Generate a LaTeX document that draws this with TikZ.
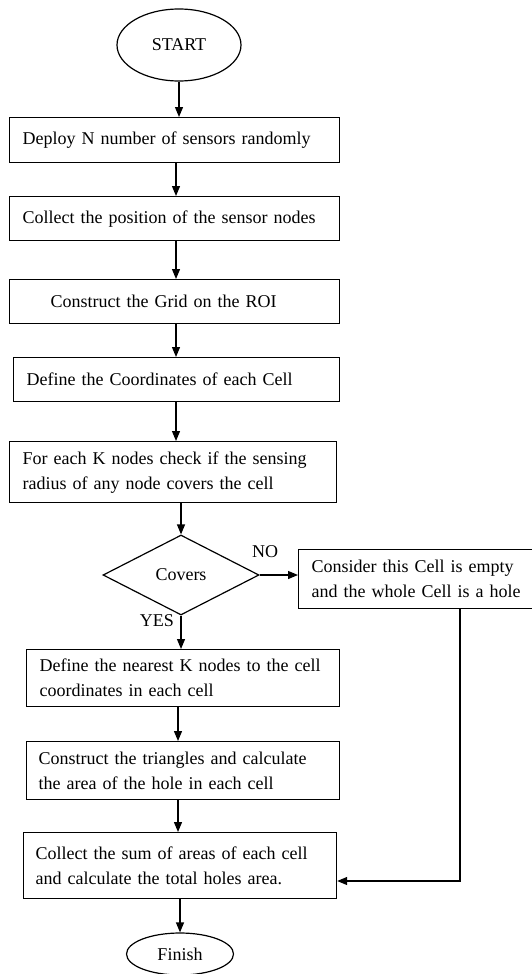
\documentclass[tikz,border=0pt]{standalone}
\usepackage{fontspec}
\setmainfont{Liberation Serif}
\usetikzlibrary{shapes.geometric,arrows.meta,calc}
\begin{document}
\begin{tikzpicture}[x=1pt,y=-1pt,
  every node/.style={font=\fontsize{18}{25}\selectfont},
  proc/.style={draw, line width=1.2pt, rectangle, anchor=north west, align=left, inner ysep=0pt},
  term/.style={draw, ellipse, line width=1.2pt, inner sep=0pt},
  arr/.style={line width=1.2pt, -{Triangle[length=10pt,width=8pt]}}]
\useasboundingbox (0,0) rectangle (531,974);

\node[term, minimum width=124pt, minimum height=72pt] (start) at (179,45) {\raisebox{-4pt}{START}};

\node[proc, minimum width=330pt, minimum height=45pt, text width=304pt, inner xsep=13pt] (b1) at (9,117) {\mbox{Deploy N number of sensors randomly}};
\node[proc, minimum width=330pt, minimum height=44pt, text width=304pt, inner xsep=13pt] (b2) at (9,196) {\mbox{Collect the position of the sensor nodes}};
\node[proc, minimum width=330pt, minimum height=44pt, text width=248pt, inner xsep=41pt] (b3) at (9,279) {\mbox{Construct the Grid on the ROI}};
\node[proc, minimum width=326pt, minimum height=44pt, text width=300pt, inner xsep=13pt] (b4) at (13,357) {\mbox{Define the Coordinates of each Cell}};
\node[proc, minimum width=327pt, minimum height=61pt, text width=301pt, inner xsep=13pt] (b5) at (9,441) {\mbox{For each K nodes check if the sensing}\\\mbox{radius of any node covers the cell}};

\node[draw, diamond, line width=1.2pt, minimum width=156pt, minimum height=80pt, inner sep=0pt] (dia) at (181,575) {Covers};

\node[proc, minimum width=250pt, minimum height=59pt, text width=224pt, inner xsep=13pt] (side) at (298,549) {\mbox{Consider this Cell is empty}\\\mbox{and the whole Cell is a hole}};

\node[proc, minimum width=313pt, minimum height=57pt, text width=287pt, inner xsep=13pt] (b6) at (26,649) {\mbox{Define the nearest K nodes to the cell}\\\mbox{coordinates in each cell}};
\node[proc, minimum width=313pt, minimum height=58pt, text width=289pt, inner xsep=12pt] (b7) at (26,741) {\mbox{Construct the triangles and calculate}\\\mbox{the area of the hole in each cell}};
\node[proc, minimum width=313pt, minimum height=66pt, text width=289pt, inner xsep=12pt] (b8) at (23,832) {\mbox{Collect the sum of areas of each cell}\\\mbox{and calculate the total holes area.}};

\node[term, minimum width=107pt, minimum height=42pt] (fin) at (180,954) {Finish};

\node (no) at (265,552) {NO};
\node (yes) at (157,621) {YES};

\coordinate (c176) at (176,0);
\coordinate (c178) at (178,0);
\coordinate (ret) at (460,881);

\draw[arr] (start.south) -- (start.south |- b1.north);
\draw[arr] (b1.south -| c176) -- (b2.north -| c176);
\draw[arr] (b2.south -| c176) -- (b3.north -| c176);
\draw[arr] (b3.south -| c176) -- (b4.north -| c176);
\draw[arr] (b4.south -| c176) -- (b5.north -| c176);
\draw[arr] (b5.south -| dia.north) -- (dia.north);
\draw[arr] (dia.south) -- (dia.south |- b6.north);
\draw[arr] (b6.south -| c178) -- (b7.north -| c178);
\draw[arr] (b7.south -| c178) -- (b8.north -| c178);
\draw[arr] (fin.north |- b8.south) -- (fin.north);
\draw[arr] (dia.east) -- (dia.east -| side.west);
\draw[arr] (side.south -| ret) -- (ret) -- (ret -| b8.east);
\end{tikzpicture}
\end{document}
